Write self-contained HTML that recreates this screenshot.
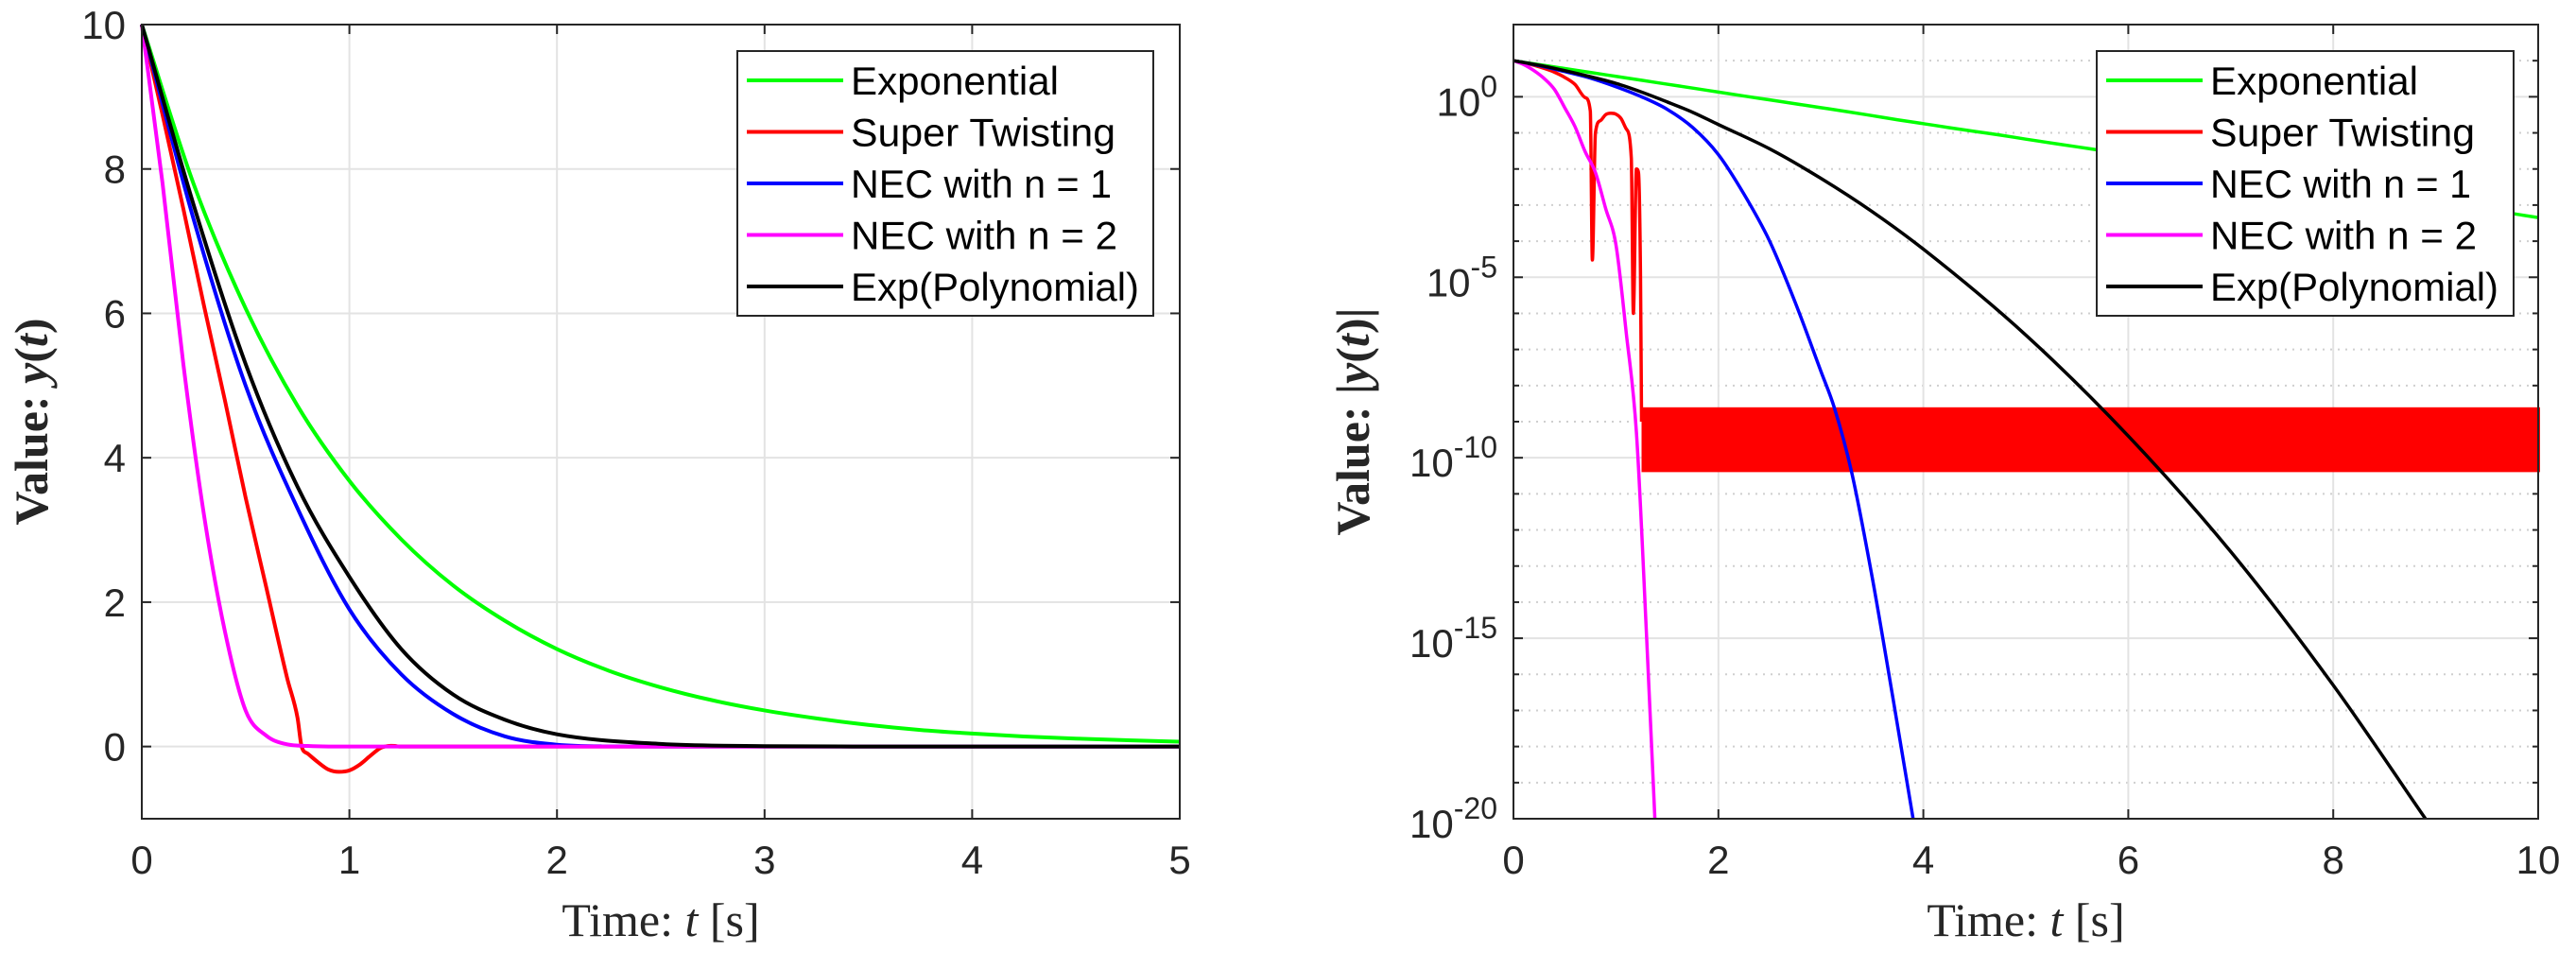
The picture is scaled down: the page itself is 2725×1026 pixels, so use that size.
<!DOCTYPE html>
<html><head><meta charset="utf-8"><style>
body{margin:0;background:#fff;}
svg{display:block;font-family:"Liberation Sans",sans-serif;}
.serif{font-family:"Liberation Serif",serif;}
</style></head><body>
<svg id="fig" width="2725" height="1026" viewBox="0 0 2725 1026" xmlns="http://www.w3.org/2000/svg">
<g id="left"></g>
<g id="right"></g>
</svg>
<script>
// ---- data ----
const expT = [0,0.25,0.5,0.75,1,1.25,1.5,1.75,2,2.25,2.5,2.75,3,3.25,3.5,3.75,4,4.25,4.5,4.75,5,5.5,6,6.5,7,7.5,8,8.5,9,9.5,10];
const expY = [10,7.79,6.07,4.72,3.68,2.87,2.23,1.74,1.35,1.05,0.82,0.64,0.50,0.39,0.30,0.23,0.18,0.14,0.11,0.087,0.067,0.041,0.025,0.015,0.0091,0.0055,0.0034,0.0020,0.0012,0.00075,0.00045];
const stT = [0,0.1,0.2,0.3,0.4,0.5,0.6,0.7,0.75,0.77,0.8,0.85,0.9,0.95,1.0,1.05,1.1,1.15,1.17,1.2,1.22,1.24,1.25];
const stY = [10,8.75,7.45,6.1,4.8,3.45,2.2,0.95,0.4,0.00003,-0.1,-0.22,-0.32,-0.35,-0.33,-0.25,-0.13,-0.02,-0.000001,0.01,0.008,0.00001,0.000000001];
const stBandStart = 1.25;
const stBandEnd = 10;
const stBandHigh = 2.5e-9;
const stBandLow = 4e-11;
const nec1T = [0,0.25,0.5,0.75,1,1.25,1.5,1.75,2,2.25,2.5,2.75,3,3.13,3.3,3.5,3.7,3.9];
const nec1Y = [10,7.3,5.0,3.3,1.9,1.0,0.45,0.14,0.025,0.002,1e-4,2e-6,2.5e-8,2.5e-9,4e-11,5e-14,2.5e-17,1e-20];
const nec2T = [0,0.1,0.2,0.3,0.4,0.5,0.6,0.7,0.8,0.9,1.0,1.1,1.2,1.3,1.38];
const nec2Y = [10,7.8,5.3,3.2,1.6,0.5,0.15,0.03,0.008,0.0008,8e-5,3e-7,5e-10,1e-15,1e-20];
const polT = [0,0.25,0.5,0.75,1,1.25,1.5,1.75,2,2.5,3,3.5,4,5,6,7,8,8.9];
const polY = [10,7.5,5.3,3.6,2.35,1.35,0.72,0.37,0.17,0.036,0.0055,6.6e-4,6e-5,2.5e-7,4e-10,2.5e-13,5e-17,1e-20];
const leftXTicks = [0,1,2,3,4,5];
const leftYTicks = [0,2,4,6,8,10];
const rightXTicks = [0,2,4,6,8,10];
const rightYExp = [0,-5,-10,-15,-20];
const legendLabels = ["Exponential","Super Twisting","NEC with n = 1","NEC with n = 2","Exp(Polynomial)"];
const colors = ["#00ff00","#ff0000","#0000ff","#ff00ff","#000000"];
const legendTextW = [220,280,276,282,305];

const NS="http://www.w3.org/2000/svg";
function mk(parent,tag,attrs){const e=document.createElementNS(NS,tag);for(const k in attrs)e.setAttribute(k,attrs[k]);parent.appendChild(e);return e;}
function smoothPath(P){
  const n=P.length; if(n<2) return '';
  const d=[],m=[];
  for(let i=0;i<n-1;i++){const dx=P[i+1][0]-P[i][0];d.push(dx===0?0:(P[i+1][1]-P[i][1])/dx);}
  m[0]=d[0];m[n-1]=d[n-2];
  for(let i=1;i<n-1;i++){ m[i]=(d[i-1]*d[i]<=0)?0:(d[i-1]+d[i])/2; }
  for(let i=0;i<n-1;i++){ if(d[i]===0){m[i]=0;m[i+1]=0;continue;}
    const a=m[i]/d[i],b=m[i+1]/d[i],s=a*a+b*b; if(s>9){const t=3/Math.sqrt(s);m[i]=t*a*d[i];m[i+1]=t*b*d[i];}}
  let s='M'+P[0][0]+','+P[0][1];
  for(let i=0;i<n-1;i++){const h=(P[i+1][0]-P[i][0])/3;
    s+=' C'+(P[i][0]+h)+','+(P[i][1]+m[i]*h)+' '+(P[i+1][0]-h)+','+(P[i+1][1]-m[i+1]*h)+' '+P[i+1][0]+','+P[i+1][1];}
  return s;
}

// ---- left plot ----
const L={x0:150,x1:1248,y0:26,y1:866,xmin:0,xmax:5,ymin:-1,ymax:10};
const lx=t=>L.x0+(t-L.xmin)/(L.xmax-L.xmin)*(L.x1-L.x0);
const ly=v=>L.y1-(v-L.ymin)/(L.ymax-L.ymin)*(L.y1-L.y0);
const gl=document.getElementById('left');
leftXTicks.forEach(t=>{
  const g=mk(gl,'line',{x1:lx(t),x2:lx(t),y1:L.y0,y2:L.y1,stroke:'#e3e3e3','stroke-width':2});
  
  const tx=mk(gl,'text',{x:lx(t),y:924,'font-size':42,'text-anchor':'middle',fill:'#262626'});tx.textContent=t;
  
  mk(gl,'line',{x1:lx(t),x2:lx(t),y1:L.y1,y2:L.y1-10,stroke:'#262626','stroke-width':2});
  mk(gl,'line',{x1:lx(t),x2:lx(t),y1:L.y0,y2:L.y0+10,stroke:'#262626','stroke-width':2});
});
leftYTicks.forEach(v=>{
  const g=mk(gl,'line',{x1:L.x0,x2:L.x1,y1:ly(v),y2:ly(v),stroke:'#e3e3e3','stroke-width':2});
  
  const tx=mk(gl,'text',{x:133,y:ly(v)+15,'font-size':42,'text-anchor':'end',fill:'#262626'});tx.textContent=v;
  
  mk(gl,'line',{x1:L.x0,x2:L.x0+10,y1:ly(v),y2:ly(v),stroke:'#262626','stroke-width':2});
  mk(gl,'line',{x1:L.x1,x2:L.x1-10,y1:ly(v),y2:ly(v),stroke:'#262626','stroke-width':2});
});
const lseries=[[expT,expY],[stT,stY],[nec1T,nec1Y],[nec2T,nec2Y],[polT,polY]];
const lnames=['exponential-line','super-twisting-line','nec-n1-line','nec-n2-line','exp-polynomial-line'];
lseries.forEach((s,i)=>{
  const pts=[];
  for(let k=0;k<s[0].length;k++){ if(s[0][k]<=L.xmax) pts.push([lx(s[0][k]),ly(s[1][k])]); }
  const last=s[0][s[0].length-1];
  if(last<L.xmax) pts.push([lx(L.xmax),ly(0)]);
  const p=mk(gl,'path',{d:smoothPath(pts),fill:'none',stroke:colors[i],'stroke-width':4,'stroke-linejoin':'round'});
  
});
const lb=mk(gl,'rect',{x:L.x0,y:L.y0,width:L.x1-L.x0,height:L.y1-L.y0,fill:'none',stroke:'#262626','stroke-width':2});

const lxl=mk(gl,'text',{x:699,y:990,'font-size':50,'text-anchor':'middle',fill:'#262626',class:'serif'});
lxl.innerHTML='Time:  <tspan font-style="italic">t</tspan> [s]';

const lyl=mk(gl,'text',{x:0,y:0,'font-size':50,'text-anchor':'middle',fill:'#262626',class:'serif','font-weight':'bold',transform:'translate(50,446) rotate(-90)'});
lyl.innerHTML='Value:  <tspan font-style="italic">y</tspan>(<tspan font-style="italic">t</tspan>)';


// ---- right plot ----
const R={x0:1601,x1:2685,y0:26,y1:866,xmin:0,xmax:10,lmin:-20,lmax:2};
const rx=t=>R.x0+(t-R.xmin)/(R.xmax-R.xmin)*(R.x1-R.x0);
const ry=v=>{const l=Math.log10(Math.max(Math.abs(v),1e-30));return R.y1-(l-R.lmin)/(R.lmax-R.lmin)*(R.y1-R.y0);};
const gr=document.getElementById('right');
for(let d=R.lmin;d<=R.lmax;d++){
  const y=ry(Math.pow(10,d));
  const major=(d%5===0);
  const g=mk(gr,'line',{x1:R.x0,x2:R.x1,y1:y,y2:y,stroke:major?'#e3e3e3':'#cfcfcf','stroke-width':2,'stroke-dasharray':major?'none':'2,6'});
  
  mk(gr,'line',{x1:R.x0,x2:R.x0+(major?10:6),y1:y,y2:y,stroke:'#262626','stroke-width':2});
  mk(gr,'line',{x1:R.x1,x2:R.x1-(major?10:6),y1:y,y2:y,stroke:'#262626','stroke-width':2});
}
rightXTicks.forEach(t=>{
  const g=mk(gr,'line',{x1:rx(t),x2:rx(t),y1:R.y0,y2:R.y1,stroke:'#e3e3e3','stroke-width':2});
  
  const tx=mk(gr,'text',{x:rx(t),y:924,'font-size':42,'text-anchor':'middle',fill:'#262626'});tx.textContent=t;
  
  mk(gr,'line',{x1:rx(t),x2:rx(t),y1:R.y1,y2:R.y1-10,stroke:'#262626','stroke-width':2});
  mk(gr,'line',{x1:rx(t),x2:rx(t),y1:R.y0,y2:R.y0+10,stroke:'#262626','stroke-width':2});
});
rightYExp.forEach(e=>{
  const tx=mk(gr,'text',{x:1584,y:ry(Math.pow(10,e))+20,'font-size':42,'text-anchor':'end',fill:'#262626'});
  tx.innerHTML='10<tspan dy="-20" font-size="32">'+e+'</tspan>';
  
});
const clip=mk(gr,'clipPath',{id:'rclip'});mk(clip,'rect',{x:R.x0,y:R.y0,width:R.x1-R.x0,height:R.y1-R.y0});
const band=mk(gr,'rect',{x:rx(stBandStart),y:ry(stBandHigh),width:rx(stBandEnd)-rx(stBandStart)+2,height:ry(stBandLow)-ry(stBandHigh),fill:'#ff0000'});

lseries.forEach((s,i)=>{
  const pts=[];
  for(let k=0;k<s[0].length;k++) pts.push([rx(s[0][k]),ry(s[1][k])]);
  const p=mk(gr,'path',{d:smoothPath(pts),fill:'none',stroke:colors[i],'stroke-width':3.5,'stroke-linejoin':'round','clip-path':'url(#rclip)'});
  
});
const rb=mk(gr,'rect',{x:R.x0,y:R.y0,width:R.x1-R.x0,height:R.y1-R.y0,fill:'none',stroke:'#262626','stroke-width':2});

const rxl=mk(gr,'text',{x:2143,y:990,'font-size':50,'text-anchor':'middle',fill:'#262626',class:'serif'});
rxl.innerHTML='Time:  <tspan font-style="italic">t</tspan> [s]';

const ryl=mk(gr,'text',{x:0,y:0,'font-size':50,'text-anchor':'middle',fill:'#262626',class:'serif','font-weight':'bold',transform:'translate(1448,446) rotate(-90)'});
ryl.innerHTML='Value:  |<tspan font-style="italic">y</tspan>(<tspan font-style="italic">t</tspan>)|';


// ---- legends ----
function legend(parent,x,y,w,h){
  const g=mk(parent,'g',{});
  
  mk(g,'rect',{x:x,y:y,width:w,height:h,fill:'#fff',stroke:'#262626','stroke-width':2});
  legendLabels.forEach((lab,i)=>{
    const cy=y+31+i*54.5;
    const e=mk(g,'g',{});
    
    mk(e,'line',{x1:x+10,x2:x+112,y1:cy,y2:cy,stroke:colors[i],'stroke-width':4});
    const t=mk(e,'text',{x:x+120,y:cy+15,'font-size':42,fill:'#000',textLength:legendTextW[i],lengthAdjust:'spacingAndGlyphs'});
    t.textContent=lab;
  });
}
legend(gl,780,54,440,280);
legend(gr,2218,54,441,280);
</script>
</body></html>
